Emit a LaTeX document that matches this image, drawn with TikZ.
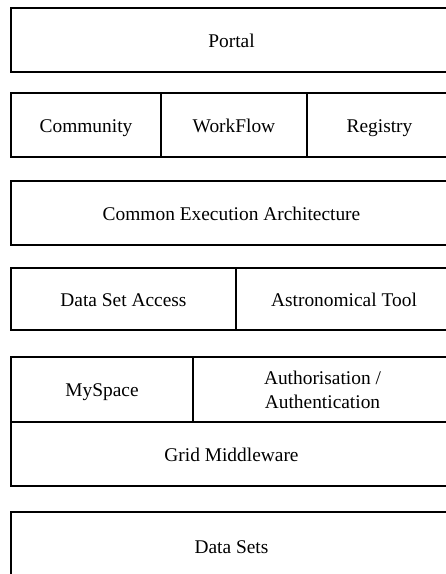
\documentclass[tikz,border=0pt]{standalone}
\usepackage{fontspec}
\setmainfont{Liberation Serif}
\usetikzlibrary{positioning}

\tikzset{layer/.style={draw, rectangle, line width=1.2pt, inner sep=0pt, outer sep=0pt,
    align=center, text height=17pt, text depth=3pt, font=\fontsize{19.4}{24}\selectfont}}

\begin{document}
\begin{tikzpicture}[x=1pt,y=-1pt]
\useasboundingbox (0,0) rectangle (446,574);
\clip (0,0) rectangle (446,574);
\node[layer, anchor=north west, minimum width=441, minimum height=64] (portal) at (11,8) {Portal};
\node[layer, anchor=north west, minimum width=150, minimum height=64] (community) at (11,93) {Community};
\node[layer, minimum width=146, minimum height=64, right=0pt of community] (workflow) {WorkFlow};
\node[layer, minimum width=145, minimum height=64, right=0pt of workflow] (registry) {Registry};
\node[layer, anchor=north west, minimum width=441, minimum height=64] (cea) at (11,181) {Common Execution Architecture};
\node[layer, anchor=north west, minimum width=225, minimum height=62] (dsa) at (11,268) {Data Set Access};
\node[layer, minimum width=216, minimum height=62, right=0pt of dsa] (astro) {Astronomical Tool};
\node[layer, anchor=north west, minimum width=182, minimum height=65] (myspace) at (11,357) {MySpace};
\node[layer, text height=, text depth=, minimum width=259, minimum height=65, right=0pt of myspace] (auth) {Authorisation /\\Authentication};
\node[layer, anchor=north west, minimum width=441, minimum height=64] (grid) at (11,422) {Grid Middleware};
\node[layer, anchor=north west, minimum width=441, minimum height=68] (datasets) at (11,512) {Data Sets};
\end{tikzpicture}
\end{document}
